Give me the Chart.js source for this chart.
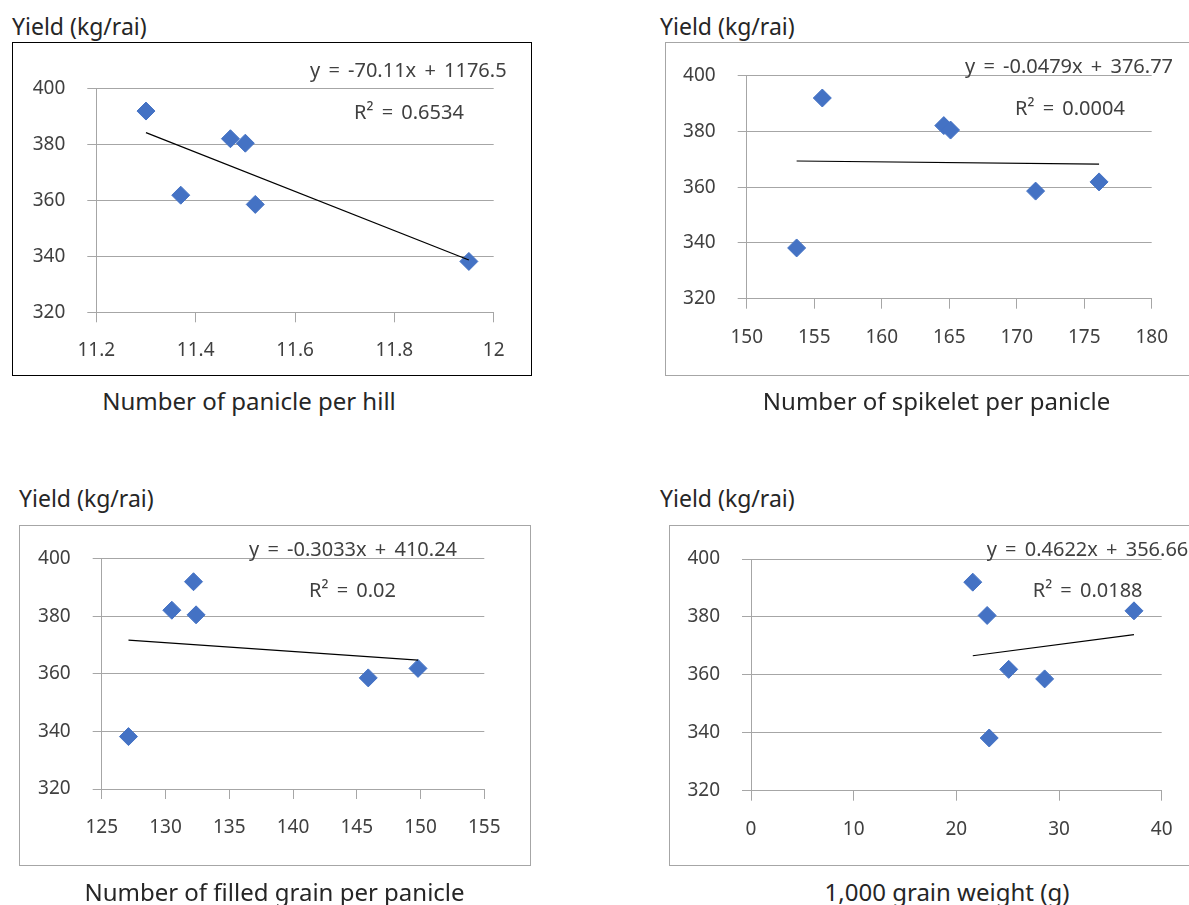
<!DOCTYPE html>
<html>
<head>
<meta charset="utf-8">
<script src="https://cdn.jsdelivr.net/npm/chart.js@4.4.0/dist/chart.umd.min.js"></script>
<style>
  html, body { margin: 0; padding: 0; background: #fff; overflow: hidden; width: 1189px; height: 905px; }
  body { position: relative; font-family: 'Noto Sans', sans-serif; color: #262626; }
  canvas, .frame, .lbl { position: absolute; }
  .frame { box-sizing: border-box; border: 1px solid #a6a6a6; pointer-events: none; }
  .lbl { white-space: nowrap; line-height: 1; }
  .ytitle { font-size: 23px; }
  .xtitle { font-size: 24px; transform: translateX(-50%); }
</style>
</head>
<body>

<canvas id="c1"></canvas><div class="frame" id="f1"></div>
<canvas id="c2"></canvas><div class="frame" id="f2"></div>
<canvas id="c3"></canvas><div class="frame" id="f3"></div>
<canvas id="c4"></canvas><div class="frame" id="f4"></div>

<script>
/* ── Data ────────────────────────────────────────────────────── */

const YIELD    = [392.0, 361.9, 382.1, 380.5, 358.6, 338.2];   // kg/rai
const PANICLE  = [11.30, 11.37, 11.47, 11.50, 11.52, 11.95];   // per hill
const SPIKELET = [155.6, 176.1, 164.6, 165.1, 171.4, 153.7];   // per panicle
const FILLED   = [132.2, 149.8, 130.5, 132.4, 145.9, 127.1];   // per panicle
const WEIGHT   = [21.6, 25.1, 37.3, 23.0, 28.6, 23.2];         // g / 1,000 grains

/* Trend line end points */
const TREND_PANICLE  = [[11.30, 384.3], [11.95, 338.7]];
const TREND_SPIKELET = [[153.7, 369.4], [176.1, 368.3]];
const TREND_FILLED   = [[127.1, 371.7], [149.8, 364.8]];
const TREND_WEIGHT   = [[21.6, 366.6], [37.3, 373.9]];

const Y_TICKS          = [320, 340, 360, 380, 400];
const X_TICKS_PANICLE  = [11.2, 11.4, 11.6, 11.8, 12];
const X_TICKS_SPIKELET = [150, 155, 160, 165, 170, 175, 180];
const X_TICKS_FILLED   = [125, 130, 135, 140, 145, 150, 155];
const X_TICKS_WEIGHT   = [0, 10, 20, 30, 40];

const Y_TITLE  = 'Yield (kg/rai)';
const X_TITLES = [
  'Number of panicle per hill',
  'Number of spikelet per panicle',
  'Number of filled grain per panicle',
  '1,000 grain weight (g)',
];
const EQ_TEXT = ['y = -70.11x + 1176.5', 'y = -0.0479x + 376.77', 'y = -0.3033x + 410.24', 'y = 0.4622x + 356.66'];
const R2_TEXT = ['R² = 0.6534', 'R² = 0.0004', 'R² = 0.02', 'R² = 0.0188'];

/* ── Styles ──────────────────────────────────────────────────── */
const BLUE = '#4472c4';
const GRID = '#a6a6a6';
const TICK = '#404040';
const FONT = "'Noto Sans', sans-serif";

/* ── Panel layout (page px) ──────────────────────────────────── */
const PANELS = [
  { id: 1, xs: PANICLE,  trend: TREND_PANICLE,  xt: X_TICKS_PANICLE,
    left: 12,  top: 42,  w: 520, h: 334, border: '#000',
    area: { l: 84.3, r: 481.7, t: 46.7, b: 270.3 },
    eq: [298, 34.7], r2: [342, 76.7],
    yTitle: [12, 14.6],  xTitle: [249, 388.7] },
  { id: 2, xs: SPIKELET, trend: TREND_SPIKELET, xt: X_TICKS_SPIKELET,
    left: 665, top: 42,  w: 540, h: 334, border: GRID,
    area: { l: 81.7, r: 486.7, t: 33.7, b: 256.7 },
    eq: [300, 31.3], r2: [350, 73],
    yTitle: [660, 14.6], xTitle: [936.5, 388.7] },
  { id: 3, xs: FILLED,   trend: TREND_FILLED,   xt: X_TICKS_FILLED,
    left: 19,  top: 525, w: 512, h: 341, border: GRID,
    area: { l: 82.7, r: 465.3, t: 33.7, b: 264 },
    eq: [230, 31], r2: [290, 72.3],
    yTitle: [19, 487.3], xTitle: [274.5, 880.4] },
  { id: 4, xs: WEIGHT,   trend: TREND_WEIGHT,   xt: X_TICKS_WEIGHT,
    left: 669, top: 525, w: 540, h: 341, border: GRID,
    area: { l: 82, r: 492.7, t: 34, b: 265.7 },
    eq: [317.7, 31], r2: [363.7, 72.3],
    yTitle: [660, 487.3], xTitle: [947, 880.4] },
];

/* ── Equation / R² text plugin ───────────────────────────────── */
const eqPlugin = {
  id: 'eqText',
  afterDatasetsDraw(chart, args, opts) {
    const ctx = chart.ctx;
    ctx.save();
    ctx.font = `20px ${FONT}`;
    ctx.fillStyle = TICK;
    ctx.textAlign = 'left';
    ctx.textBaseline = 'alphabetic';
    if ('wordSpacing' in ctx) ctx.wordSpacing = '3px';
    (opts.lines || []).forEach(l => ctx.fillText(l.text, l.x, l.y));
    ctx.restore();
  },
};

function addLabel(cls, text, x, y) {
  const d = document.createElement('div');
  d.className = 'lbl ' + cls;
  d.textContent = text;
  d.style.left = x + 'px';
  d.style.top = y + 'px';
  document.body.appendChild(d);
}

function fmt(v) { return String(+v.toFixed(2)); }

function renderPanel(p, i) {
  const cv = document.getElementById('c' + p.id);
  cv.width = p.w; cv.height = p.h;
  cv.style.left = p.left + 'px'; cv.style.top = p.top + 'px';

  const fr = document.getElementById('f' + p.id);
  Object.assign(fr.style, {
    left: p.left + 'px', top: p.top + 'px', width: p.w + 'px', height: p.h + 'px',
    borderColor: p.border,
  });

  addLabel('ytitle', Y_TITLE, p.yTitle[0], p.yTitle[1]);
  addLabel('xtitle', X_TITLES[i], p.xTitle[0], p.xTitle[1]);

  const tickFont = { family: FONT, size: 19 };

  new Chart(cv.getContext('2d'), {
    type: 'scatter',
    data: {
      datasets: [
        {
          type: 'line',
          data: p.trend.map(([x, y]) => ({ x, y })),
          borderColor: '#000',
          borderWidth: 1.2,
          pointRadius: 0,
          fill: false,
        },
        {
          type: 'scatter',
          data: p.xs.map((x, k) => ({ x, y: YIELD[k] })),
          pointStyle: 'rectRot',
          pointRadius: 9,
          pointHoverRadius: 9,
          backgroundColor: BLUE,
          borderColor: BLUE,
          borderWidth: 1,
        },
      ],
    },
    options: {
      responsive: false,
      animation: false,
      events: [],
      layout: { padding: { left: 0, bottom: 0, top: p.area.t, right: p.w - p.area.r } },
      plugins: {
        legend: { display: false },
        tooltip: { enabled: false },
        eqText: {
          lines: [
            { text: EQ_TEXT[i], x: p.eq[0], y: p.eq[1] },
            { text: R2_TEXT[i], x: p.r2[0], y: p.r2[1] },
          ],
        },
      },
      scales: {
        x: {
          type: 'linear',
          min: p.xt[0],
          max: p.xt[p.xt.length - 1],
          afterBuildTicks: s => { s.ticks = p.xt.map(v => ({ value: v })); },
          afterFit: s => { s.height = p.h - p.area.b; },
          grid: { drawOnChartArea: false, drawTicks: true, tickLength: 10, color: GRID, lineWidth: 1 },
          border: { display: true, color: GRID, width: 1 },
          ticks: { padding: 17, color: TICK, font: tickFont, maxRotation: 0, autoSkip: false, callback: fmt },
        },
        y: {
          type: 'linear',
          min: Y_TICKS[0],
          max: Y_TICKS[Y_TICKS.length - 1],
          afterBuildTicks: s => { s.ticks = Y_TICKS.map(v => ({ value: v })); },
          afterFit: s => { s.width = p.area.l; },
          grid: { drawTicks: true, tickLength: 9, color: GRID, lineWidth: 1 },
          border: { display: true, color: GRID, width: 1 },
          ticks: { padding: 22, color: TICK, font: tickFont, callback: fmt },
        },
      },
    },
    plugins: [eqPlugin],
  });
}

PANELS.forEach(renderPanel);
</script>
</body>
</html>
